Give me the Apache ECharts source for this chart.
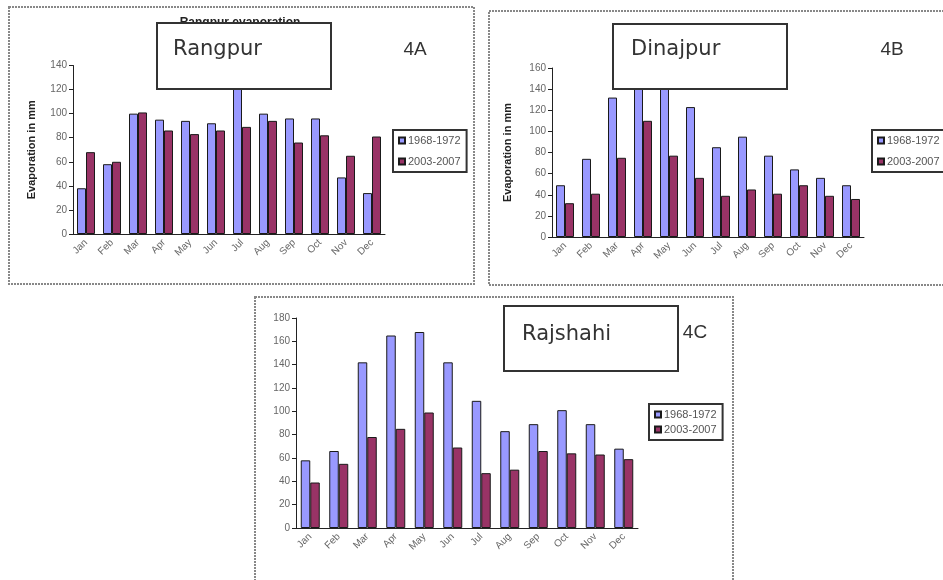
<!DOCTYPE html>
<html>
<head>
<meta charset="utf-8">
<script src="https://cdn.jsdelivr.net/npm/echarts@6/dist/echarts.min.js"></script>
<style>
  html, body { margin: 0; padding: 0; background: #fff; }
  #chart { width: 943px; height: 580px; }
</style>
</head>
<body>
<div id="chart"></div>
<script>
// Monthly evaporation (mm), two periods, three stations
const months = ['Jan', 'Feb', 'Mar', 'Apr', 'May', 'Jun', 'Jul', 'Aug', 'Sep', 'Oct', 'Nov', 'Dec'];
const periods = ['1968-1972', '2003-2007'];

const rangpurEarly  = [38, 58, 100, 95, 94, 92, 128, 100, 96, 96, 47, 34];
const rangpurLate   = [68, 60, 101, 86, 83, 86, 89, 94, 76, 82, 65, 81];
const dinajpurEarly = [49, 74, 132, 150, 150, 123, 85, 95, 77, 64, 56, 49];
const dinajpurLate  = [32, 41, 75, 110, 77, 56, 39, 45, 41, 49, 39, 36];
const rajshahiEarly = [58, 66, 142, 165, 168, 142, 109, 83, 89, 101, 89, 68];
const rajshahiLate  = [39, 55, 78, 85, 99, 69, 47, 50, 66, 64, 63, 59];

const yTicksA = { min: 0, max: 140, interval: 20 };
const yTicksB = { min: 0, max: 160, interval: 20 };
const yTicksC = { min: 0, max: 180, interval: 20 };

const stations = ['Rangpur', 'Dinajpur', 'Rajshahi'];
const panelTags = ['4A', '4B', '4C'];
const yName = 'Evaporation in mm';

const COLOR_EARLY = '#9999ff';
const COLOR_LATE = '#993366';
const AXIS_COLOR = '#222';
const LABEL_COLOR = '#666';

const chart = echarts.init(document.getElementById('chart'), null, { renderer: 'canvas' });

function xAxisFor(gridIndex) {
  return {
    type: 'category',
    gridIndex,
    data: months,
    axisLine: { lineStyle: { color: AXIS_COLOR, width: 1 } },
    axisTick: { length: 4, lineStyle: { color: AXIS_COLOR } },
    axisLabel: { rotate: 45, fontSize: 10, color: LABEL_COLOR, margin: 7, interval: 0, fontFamily: 'Liberation Sans' }
  };
}

function yAxisFor(gridIndex, ticks, withName, nameGap) {
  return {
    type: 'value',
    gridIndex,
    min: ticks.min,
    max: ticks.max,
    interval: ticks.interval,
    name: withName ? yName : '',
    nameLocation: 'middle',
    nameGap: nameGap,
    nameTextStyle: { fontSize: 11, fontWeight: 'bold', color: '#222', fontFamily: 'Liberation Sans' },
    axisLine: { show: true, lineStyle: { color: AXIS_COLOR, width: 1 } },
    axisTick: { show: true, length: 4, lineStyle: { color: AXIS_COLOR } },
    axisLabel: { fontSize: 10, color: LABEL_COLOR, margin: 6, fontFamily: 'Liberation Sans' },
    splitLine: { show: false }
  };
}

function barSeries(name, data, idx, color, width) {
  return {
    name,
    type: 'bar',
    xAxisIndex: idx,
    yAxisIndex: idx,
    data,
    barWidth: width,
    barGap: '0%',
    itemStyle: { color, borderColor: '#1a1a1a', borderWidth: 1 },
    emphasis: { disabled: true }
  };
}

function legendFor(left, top, gap) {
  return {
    orient: 'vertical',
    left, top,
    data: periods,
    itemWidth: 6,
    itemHeight: 6,
    itemGap: gap,
    padding: [5, 6, 5, 5],
    borderColor: '#333',
    borderWidth: 2,
    backgroundColor: '#fff',
    icon: 'rect',
    selectedMode: false,
    textStyle: { fontSize: 11, color: '#555', padding: [0, 0, 0, -2], fontFamily: 'Liberation Sans' }
  };
}

function titleBox(x, y, w, h, label, tx, ty) {
  return [
    {
      type: 'rect', z: 100,
      shape: { x, y, width: w, height: h },
      style: { fill: '#fff', stroke: '#333', lineWidth: 2 }
    },
    {
      type: 'text', z: 101, x: tx, y: ty,
      style: { text: label, fontSize: 21, fontFamily: 'DejaVu Sans', fill: '#333', verticalAlign: 'middle' }
    }
  ];
}

function tag(text, cx, cy) {
  return {
    type: 'text', z: 101, x: cx, y: cy,
    style: { text, fontSize: 19, fontFamily: 'Liberation Sans', fill: '#333', align: 'center', verticalAlign: 'middle' }
  };
}

function panelFrame(x, y, w, h) {
  return {
    type: 'rect', z: 0,
    shape: { x, y, width: w, height: h },
    style: { fill: 'none', stroke: '#888', lineWidth: 2, lineDash: [2, 1] }
  };
}

const option = {
  animation: false,
  backgroundColor: '#fff',
  color: [COLOR_EARLY, COLOR_LATE],
  grid: [
    { left: 73, top: 65.5, width: 312, height: 168.5 },
    { left: 552, top: 68, width: 312, height: 169 },
    { left: 296, top: 318, width: 342, height: 210 }
  ],
  xAxis: [xAxisFor(0), xAxisFor(1), xAxisFor(2)],
  yAxis: [
    yAxisFor(0, yTicksA, true, 36),
    yAxisFor(1, yTicksB, true, 39),
    yAxisFor(2, yTicksC, false, 0)
  ],
  legend: [
    legendFor(393, 130, 10),
    legendFor(872, 130, 10),
    legendFor(649, 404, 4)
  ],
  series: [
    barSeries(periods[0], rangpurEarly, 0, COLOR_EARLY, 9),
    barSeries(periods[1], rangpurLate, 0, COLOR_LATE, 9),
    barSeries(periods[0], dinajpurEarly, 1, COLOR_EARLY, 9),
    barSeries(periods[1], dinajpurLate, 1, COLOR_LATE, 9),
    barSeries(periods[0], rajshahiEarly, 2, COLOR_EARLY, 9.5),
    barSeries(periods[1], rajshahiLate, 2, COLOR_LATE, 9.5)
  ],
  graphic: [
    panelFrame(9, 7, 465, 277),
    panelFrame(489, 11, 470, 274),
    panelFrame(255, 297, 478, 300),
    // chart heading, mostly covered by the station box
    {
      type: 'text', z: 50, x: 240, y: 17,
      style: { text: stations[0] + ' evaporation', fontSize: 12, fontWeight: 'bold', fontFamily: 'Liberation Sans', fill: '#222', align: 'center' }
    },
    ...titleBox(157, 23, 174, 66, stations[0], 173, 50),
    ...titleBox(613, 24, 174, 65, stations[1], 631, 50),
    ...titleBox(504, 306, 174, 65, stations[2], 522, 335),
    tag(panelTags[0], 415, 50),
    tag(panelTags[1], 892, 50),
    tag(panelTags[2], 695, 333)
  ]
};

chart.setOption(option);
</script>
</body>
</html>
